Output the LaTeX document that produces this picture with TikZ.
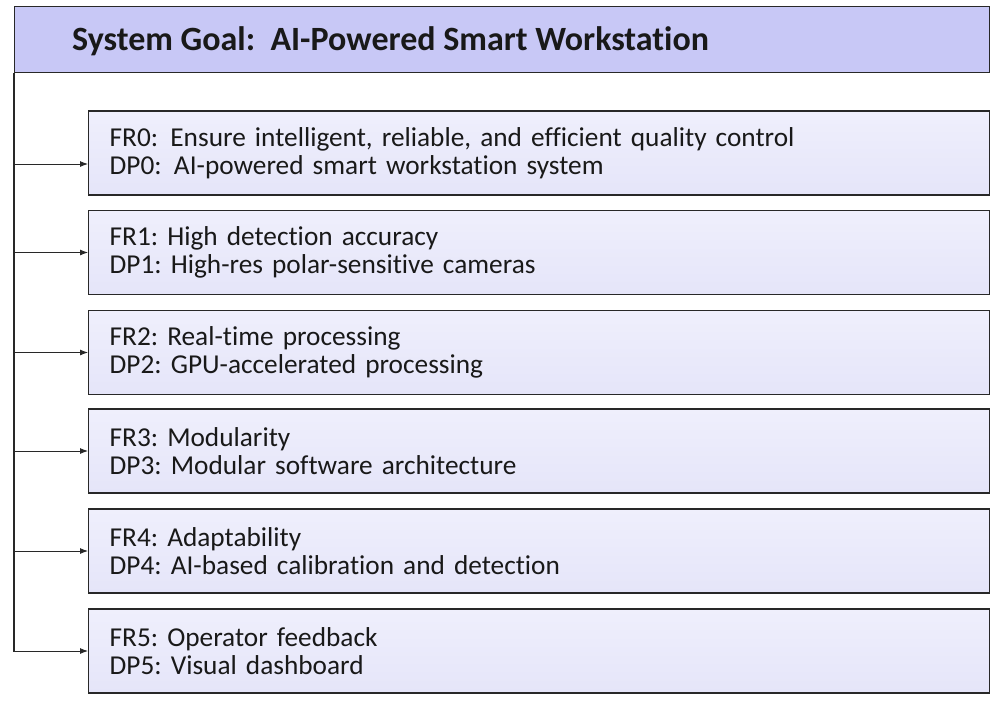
\documentclass[tikz,border=0pt]{standalone}
\usepackage{fontspec}
\setmainfont{Carlito}[Ligatures=NoCommon]
\usetikzlibrary{arrows.meta}
\frenchspacing
\definecolor{headfill}{RGB}{200,200,246}
\definecolor{boxtop}{RGB}{239,239,252}
\definecolor{boxbot}{RGB}{229,229,249}
\definecolor{edge}{RGB}{40,40,40}
\definecolor{txt}{RGB}{25,25,25}
\tikzset{
  headbox/.style={draw=edge, line width=1.4pt, fill=headfill, minimum width=975pt, minimum height=66pt, inner sep=0pt, anchor=north west},
  headtext/.style={anchor=west, inner sep=0pt, text=txt, font=\fontsize{34}{38}\selectfont\bfseries},
  frbox/.style={draw=edge, line width=1.3pt, top color=boxtop, bottom color=boxbot, minimum width=901pt, minimum height=84pt, text width=859pt, inner xsep=21pt, inner ysep=0pt, align=left, text=txt, font=\fontsize{27.3}{27.5}\selectfont, anchor=west},
  trunk/.style={line width=1.6pt, draw=edge},
  arr/.style={line width=0.9pt, draw=edge, -{Latex[length=8pt,width=6pt]}}
}
\begin{document}
\frenchspacing
\begin{tikzpicture}[x=1pt,y=-1pt]
\useasboundingbox (0,0) rectangle (1000,706);
\node[headbox] (head) at (14,6) {};
\node[headtext] (htitle) at (72,41) {System Goal:\ \ AI-Powered Smart Workstation};
\node[frbox] (b0) at (88,153) {FR0:\hspace{0.45em}Ensure intelligent, reliable, and efficient quality control\\DP0:\hspace{0.45em}AI-powered smart workstation system};
\node[frbox] (b1) at (88,252.5) {FR1: High detection accuracy\\DP1: High-res polar-sensitive cameras};
\node[frbox] (b2) at (88,352.5) {FR2: Real-time processing\\DP2: GPU-accelerated processing};
\node[frbox] (b3) at (88,451) {FR3: Modularity\\DP3: Modular software architecture};
\node[frbox] (b4) at (88,551) {FR4: Adaptability\\DP4: AI-based calibration and detection};
\node[frbox] (b5) at (88,651) {FR5: Operator feedback\\DP5: Visual dashboard};
\coordinate (t0) at (14,164);
\coordinate (tend) at (14,651.5);
\draw[trunk] (head.south west) -- (tend);
\draw[arr] (t0) -- (b0.west |- t0);
\draw[arr] (head.south west |- b1.west) -- (b1.west);
\draw[arr] (head.south west |- b2.west) -- (b2.west);
\draw[arr] (head.south west |- b3.west) -- (b3.west);
\draw[arr] (head.south west |- b4.west) -- (b4.west);
\draw[arr] (head.south west |- b5.west) -- (b5.west);
\end{tikzpicture}
\end{document}
